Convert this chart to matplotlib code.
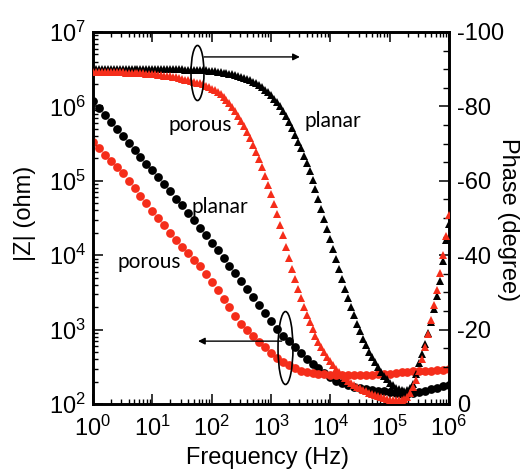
import numpy as np
import matplotlib
matplotlib.use("Agg")
import matplotlib.pyplot as plt
from matplotlib.patches import Ellipse
from matplotlib.ticker import LogLocator, NullFormatter, MultipleLocator

plt.rcParams['font.family'] = ['Liberation Sans', 'DejaVu Sans']
plt.rcParams['mathtext.fontset'] = 'custom'
plt.rcParams['mathtext.rm'] = 'Liberation Sans'
plt.rcParams['mathtext.it'] = 'Liberation Sans:italic'
plt.rcParams['axes.unicode_minus'] = False

# ---------------- data ----------------
# |Z| sampled at 10 points per decade (1 Hz .. 1 MHz)
freq_z = np.logspace(0, 6, 61)
planar_z = [1.18e6, 9.55e5, 7.76e5, 6.17e5, 5.01e5, 3.98e5, 3.24e5, 2.63e5, 2.09e5, 1.70e5,
            1.38e5, 1.12e5, 9.12e4, 7.24e4, 5.75e4, 4.68e4, 3.72e4, 2.95e4, 2.34e4, 1.86e4,
            1.48e4, 1.18e4, 9.12e3, 7.24e3, 5.75e3, 4.47e3, 3.55e3, 2.75e3, 2.14e3, 1.66e3,
            1.29e3, 1.02e3, 832, 692, 575, 479, 407, 347, 302, 263,
            229, 204, 191, 178, 170, 162, 158, 155, 151, 148,
            145, 141, 138, 138, 141, 145, 151, 158, 166, 174, 182]
porous_z = [3.31e5, 2.75e5, 2.24e5, 1.86e5, 1.51e5, 1.26e5, 1.00e5, 7.94e4, 6.31e4, 5.01e4,
            3.98e4, 3.16e4, 2.51e4, 2.00e4, 1.58e4, 1.29e4, 1.07e4, 8.71e3, 7.08e3, 5.62e3,
            4.37e3, 3.39e3, 2.57e3, 2.00e3, 1.51e3, 1.20e3, 977, 813, 676, 575,
            490, 417, 372, 331, 302, 282, 269, 263, 257, 251,
            245, 245, 245, 245, 245, 245, 245, 245, 251, 251,
            257, 263, 269, 269, 275, 275, 282, 282, 288, 288, 295]

# phase sampled at 20 points per decade (degrees, plotted as negative values)
freq_ph = np.logspace(0, 6, 121)
planar_phase = [-90.0, -90.0, -90.0, -90.0, -90.0, -90.0, -90.0, -90.0, -90.0, -90.0,
                -90.0, -90.0, -90.0, -90.0, -90.0, -90.0, -90.0, -90.0, -90.0, -90.0,
                -90.0, -90.0, -90.0, -90.0, -90.0, -90.0, -90.0, -90.0, -90.0, -90.0,
                -90.0, -89.9, -89.9, -89.9, -89.8, -89.8, -89.8, -89.7, -89.7, -89.6,
                -89.5, -89.4, -89.3, -89.2, -89.1, -89.0, -88.8, -88.6, -88.4, -88.2,
                -88.0, -87.7, -87.4, -87.0, -86.6, -86.2, -85.7, -85.1, -84.5, -83.8,
                -83.0, -82.1, -81.1, -80.0, -78.8, -77.4, -75.9, -74.2, -72.4, -70.5,
                -68.9, -66.8, -64.8, -62.6, -60.2, -57.7, -55.1, -52.4, -49.7, -47.0,
                -44.3, -41.6, -38.9, -36.2, -33.6, -31.0, -28.5, -26.1, -23.8, -21.6,
                -19.5, -17.6, -15.8, -14.1, -12.6, -11.2, -9.9, -8.7, -7.6, -6.6,
                -5.7, -5.0, -4.4, -4.0, -3.7, -3.6, -3.7, -4.2, -5.5, -8.0,
                -11.0, -13.5, -16.0, -19.0, -22.0, -25.5, -29.0, -33.0, -38.5, -44.0,
                -48.5]
porous_phase = [-89.3, -89.3, -89.3, -89.3, -89.3, -89.3, -89.3, -89.2, -89.2, -89.2,
                -89.2, -89.1, -89.1, -89.1, -89.0, -89.0, -88.9, -88.9, -88.8, -88.8,
                -88.7, -88.6, -88.5, -88.4, -88.3, -88.2, -88.1, -87.9, -87.8, -87.6,
                -87.4, -87.2, -87.0, -86.8, -86.6, -86.4, -86.2, -85.9, -85.6, -85.2,
                -84.8, -84.3, -83.8, -83.2, -82.5, -81.7, -80.8, -79.8, -78.7, -77.5,
                -76.2, -74.8, -73.2, -71.5, -69.7, -67.8, -65.8, -63.7, -61.4, -59.0,
                -56.4, -53.7, -51.0, -48.2, -45.4, -42.3, -39.3, -36.4, -33.6, -31.0,
                -28.5, -26.2, -24.0, -22.0, -20.1, -18.4, -16.8, -15.3, -13.9, -12.6,
                -11.5, -10.4, -9.4, -8.5, -7.7, -7.0, -6.3, -5.7, -5.2, -4.7,
                -4.2, -3.8, -3.4, -3.0, -2.7, -2.4, -2.1, -1.8, -1.6, -1.4,
                -1.2, -1.1, -1.0, -1.0, -1.1, -1.4, -2.0, -3.0, -4.5, -6.5,
                -9.0, -12.0, -15.3, -18.8, -22.5, -26.5, -30.7, -35.2, -40.0, -45.2,
                -50.8]

x_ticks = [1, 10, 100, 1e3, 1e4, 1e5, 1e6]
x_labels = [r'$10^{0}$', r'$10^{1}$', r'$10^{2}$', r'$10^{3}$', r'$10^{4}$', r'$10^{5}$', r'$10^{6}$']
y_ticks = [1e2, 1e3, 1e4, 1e5, 1e6, 1e7]
y_labels = [r'$10^{2}$', r'$10^{3}$', r'$10^{4}$', r'$10^{5}$', r'$10^{6}$', r'$10^{7}$']
ph_ticks = [0, -20, -40, -60, -80, -100]
ph_labels = ['0', '-20', '-40', '-60', '-80', '-100']

RED = '#f52d1a'
W, H = 523, 470

fig = plt.figure(figsize=(W / 100, H / 100), dpi=100)
ax = fig.add_axes([93 / W, 66 / H, 356 / W, 372 / H])
ax.set_xscale('log')
ax.set_yscale('log')

ax.plot(freq_z, planar_z, 'o', color='black', ms=6.3, mew=0, zorder=3)
ax.plot(freq_z, porous_z, 'o', color=RED, ms=6.3, mew=0, zorder=4)

ax.set_xlim(1, 1e6)
ax.set_ylim(1e2, 1e7)
ax.set_xticks(x_ticks)
ax.set_xticklabels(x_labels)
ax.set_yticks(y_ticks)
ax.set_yticklabels(y_labels)
ax.xaxis.set_minor_locator(LogLocator(base=10, subs=np.arange(2, 10), numticks=100))
ax.yaxis.set_minor_locator(LogLocator(base=10, subs=np.arange(2, 10), numticks=100))
ax.xaxis.set_minor_formatter(NullFormatter())
ax.yaxis.set_minor_formatter(NullFormatter())
ax.tick_params(which='both', direction='in', top=True, right=False, labelsize=17)
ax.tick_params(which='major', length=7.5, width=1.1)
ax.tick_params(which='minor', length=3.6, width=1.0)
ax.tick_params(axis='x', which='major', pad=8.5)
ax.tick_params(axis='y', which='major', pad=5)

ax2 = ax.twinx()
ax2.plot(freq_ph, planar_phase, '^', color='black', ms=5.6, mew=0, zorder=3)
ax2.plot(freq_ph, porous_phase, '^', color=RED, ms=5.6, mew=0, zorder=4)
ax2.set_ylim(0, -100)
ax2.set_yticks(ph_ticks)
ax2.set_yticklabels(ph_labels)
ax2.yaxis.set_minor_locator(MultipleLocator(5))
ax2.tick_params(which='both', direction='in', right=True, left=False, labelsize=17, pad=6)
ax2.tick_params(which='major', length=7, width=1.1)
ax2.tick_params(which='minor', length=4.3, width=1.0)

for a in (ax, ax2):
    for s in a.spines.values():
        s.set_linewidth(1.9)

# axis titles
fig.text(268 / W, 1 - 464 / H, 'Frequency (Hz)', ha='center', va='baseline', fontsize=17)
fig.text(25 / W, 1 - 213 / H, '|Z| (ohm)', ha='center', va='center', rotation=90, fontsize=17)
fig.text(508 / W, 1 - 220 / H, 'Phase (degree)', ha='center', va='center', rotation=270, fontsize=17)

# annotations
ann = dict(transform=ax2.transAxes, ha='center', va='center', fontsize=15, family=['Lato', 'DejaVu Sans'])
ax2.text(0.3006, 0.750, 'porous', **ann)
ax2.text(0.674, 0.761, 'planar', **ann)
ax2.text(0.357, 0.530, 'planar', **ann)
ax2.text(0.157, 0.382, 'porous', **ann)

ax2.add_patch(Ellipse((0.2935, 0.8898), 0.0365, 0.148, transform=ax2.transAxes,
                      fill=False, ec='black', lw=1.2, zorder=6))
ax2.add_patch(Ellipse((0.5407, 0.1505), 0.042, 0.196, transform=ax2.transAxes,
                      fill=False, ec='black', lw=1.2, zorder=6))
arrow = dict(arrowstyle='-|>', lw=1.0, color='black', mutation_scale=10, shrinkA=0, shrinkB=0)
ax2.annotate('', xy=(0.581, 0.933), xytext=(0.312, 0.933), xycoords='axes fraction', arrowprops=arrow)
ax2.annotate('', xy=(0.295, 0.169), xytext=(0.53, 0.169), xycoords='axes fraction', arrowprops=arrow)

fig.savefig('out.png', dpi=100)
